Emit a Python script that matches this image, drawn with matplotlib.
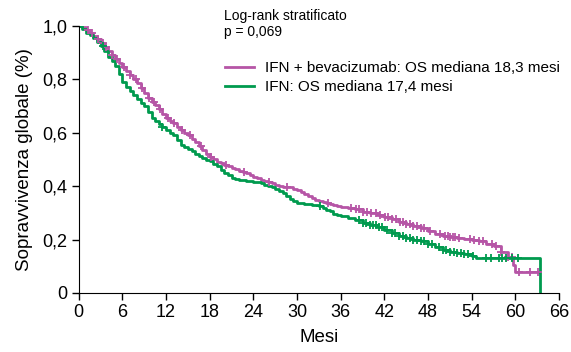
import numpy as np
import matplotlib
matplotlib.use('Agg')
import matplotlib.pyplot as plt
from matplotlib.ticker import FuncFormatter

plt.rcParams['font.family'] = ['Liberation Sans', 'DejaVu Sans']

# Kaplan-Meier, IFN + bevacizumab (magenta)
t_bev = [0, 0.5, 1, 1.5, 2, 2.5, 3, 3.5, 4, 4.5, 5, 5.5, 6, 6.5, 7, 7.5, 8, 8.5,
         9, 9.5, 10, 10.5, 11, 11.5, 12, 12.5, 13, 13.5, 14, 14.5, 15, 15.5, 16,
         16.5, 17, 17.5, 18, 18.5, 19, 19.5, 20, 20.5, 21, 21.5, 22, 22.5, 23,
         23.5, 24, 24.5, 25, 25.5, 26, 26.5, 27, 27.5, 28, 29, 29.5, 30, 30.5, 31,
         31.5, 32, 32.5, 33, 33.5, 34, 34.5, 35, 35.5, 36, 37, 38, 39, 40, 41, 42,
         43, 44, 45, 46, 47, 48, 49, 50, 51, 52, 53, 54, 55, 56, 57, 58, 59, 59.7,
         60, 63.3]
s_bev = [1.0, 0.995, 0.985, 0.975, 0.963, 0.95, 0.935, 0.92, 0.905, 0.89, 0.875,
         0.86, 0.845, 0.83, 0.815, 0.80, 0.785, 0.768, 0.75, 0.732, 0.715, 0.703,
         0.69, 0.672, 0.655, 0.645, 0.635, 0.622, 0.61, 0.60, 0.59, 0.578, 0.565,
         0.55, 0.535, 0.522, 0.51, 0.50, 0.49, 0.485, 0.48, 0.474, 0.468, 0.463,
         0.458, 0.453, 0.448, 0.442, 0.435, 0.43, 0.424, 0.42, 0.415, 0.41, 0.405,
         0.40, 0.398, 0.397, 0.39, 0.384, 0.378, 0.372, 0.363, 0.355, 0.349,
         0.343, 0.34, 0.337, 0.333, 0.328, 0.325, 0.322, 0.317, 0.313, 0.304,
         0.298, 0.293, 0.284, 0.276, 0.267, 0.259, 0.25, 0.243, 0.232, 0.22,
         0.214, 0.211, 0.206, 0.202, 0.198, 0.193, 0.182, 0.176, 0.152, 0.136,
         0.105, 0.08, 0.08]
cens_bev = [1.2, 1.8, 2.6, 3.3, 3.8, 4.6, 5.3, 6.2, 7.1, 7.8, 8.7, 9.6, 10.3,
            11.2, 12.3, 13.1, 14.2, 15.3, 16.8, 18.2, 20.3, 22.7, 26.2, 28.6,
            34.2, 37.4, 38.1, 38.5, 39, 39.6, 40.2, 40.8, 41.4, 42.1, 42.5, 43,
            43.6, 44.2, 44.5, 45, 45.5, 46, 46.5, 47, 47.5, 48.3, 49.6, 50.3, 50.7,
            51, 51.4, 51.7, 52.3, 53.7, 54.3, 55, 55.6, 56.8, 57.4, 58, 59, 59.5,
            60.5, 62, 63.1]

# Kaplan-Meier, IFN (green)
t_ifn = [0, 0.5, 1, 1.5, 2, 2.5, 3, 3.5, 4, 4.5, 5, 5.5, 6, 6.5, 7, 7.5, 8, 8.5,
         9, 9.5, 10, 10.5, 11, 11.5, 12, 12.5, 13, 13.5, 14, 14.5, 15, 15.5, 16,
         16.5, 17, 17.5, 18, 18.5, 19, 19.5, 20, 20.5, 21, 21.5, 22, 23, 24, 25,
         25.5, 26, 26.5, 27, 27.5, 28, 28.5, 29, 29.5, 30, 31, 32, 33, 33.5, 34,
         34.5, 35, 35.5, 36, 37, 38, 39, 40, 41, 42, 43, 44, 45, 46, 47, 48, 49,
         50, 51, 52, 53, 54, 54.6, 63.4]
s_ifn = [1.0, 0.99, 0.975, 0.965, 0.955, 0.94, 0.925, 0.905, 0.885, 0.868, 0.85,
         0.82, 0.79, 0.772, 0.755, 0.74, 0.725, 0.712, 0.70, 0.678, 0.655, 0.643,
         0.632, 0.62, 0.61, 0.60, 0.59, 0.572, 0.555, 0.546, 0.538, 0.53, 0.522,
         0.513, 0.505, 0.499, 0.493, 0.484, 0.475, 0.462, 0.448, 0.44, 0.432,
         0.428, 0.424, 0.42, 0.415, 0.41, 0.405, 0.40, 0.395, 0.39, 0.383, 0.375,
         0.363, 0.352, 0.345, 0.338, 0.333, 0.330, 0.325, 0.318, 0.312, 0.305,
         0.297, 0.292, 0.287, 0.28, 0.272, 0.263, 0.255, 0.245, 0.235, 0.224,
         0.213, 0.206, 0.2, 0.194, 0.183, 0.172, 0.162, 0.155, 0.15, 0.146, 0.14,
         0.13, 0.0]
cens_ifn = [3.3, 11.5, 33.2, 38.5, 39, 39.5, 40, 40.4, 40.8, 41.2, 41.7, 42.3, 43,
            43.5, 44, 44.5, 45, 45.5, 46, 46.5, 47, 47.5, 48, 48.5, 49.5, 50, 50.5,
            51, 51.5, 52, 52.5, 53, 53.5, 54.2, 56, 56.6, 57.8, 58.2, 58.7, 59.6,
            60.4]

x_ticks = [0, 6, 12, 18, 24, 30, 36, 42, 48, 54, 60, 66]
y_ticks = [0, 0.2, 0.4, 0.6, 0.8, 1.0]

col_bev = '#B655A6'
col_ifn = '#009A4E'


def step_at(times, surv, x):
    idx = np.searchsorted(times, x, side='right') - 1
    return np.array(surv)[idx]


def comma(v, pos):
    if v == 0:
        return '0'
    return ('%.1f' % v).replace('.', ',')


fig = plt.figure(figsize=(5.71, 3.52), dpi=100)
ax = fig.add_axes([0.138, 0.168, 0.841, 0.758])

ax.step(t_bev, s_bev, where='post', color=col_bev, lw=2.0,
        label='IFN + bevacizumab: OS mediana 18,3 mesi')
ax.step(t_ifn, s_ifn, where='post', color=col_ifn, lw=2.0,
        label='IFN: OS mediana 17,4 mesi')
ax.plot(cens_bev, step_at(t_bev, s_bev, cens_bev), ls='none', marker='+',
        ms=6, mew=1.3, color=col_bev)
ax.plot(cens_ifn, step_at(t_ifn, s_ifn, cens_ifn), ls='none', marker='+',
        ms=6, mew=1.3, color=col_ifn)

ax.set_xlim(0, 66)
ax.set_ylim(0, 1.0)
ax.set_xticks(x_ticks)
ax.set_yticks(y_ticks)
ax.yaxis.set_major_formatter(FuncFormatter(comma))
ax.tick_params(labelsize=13, length=5, width=1, direction='out', pad=3)
ax.spines['top'].set_visible(False)
ax.spines['right'].set_visible(False)
ax.set_xlabel('Mesi', fontsize=13.5, labelpad=6)
ax.set_ylabel('Sopravvivenza globale (%)', fontsize=13.5, labelpad=7)

fig.text(0.392, 0.955, 'Log-rank stratificato', fontsize=10, va='center')
fig.text(0.392, 0.908, 'p = 0,069', fontsize=10, va='center')

fig.legend(loc='upper left', bbox_to_anchor=(0.3935, 0.8256), frameon=False,
           fontsize=11, handlelength=1.9, handletextpad=0.75, labelspacing=0.33,
           borderaxespad=0, borderpad=0)

fig.savefig('out.png', dpi=100)
